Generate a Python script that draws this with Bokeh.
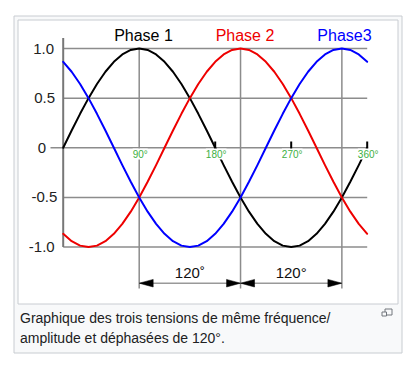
from bokeh.plotting import figure
from bokeh.models import Range1d, ColumnDataSource, LabelSet
from bokeh.core.properties import value
from bokeh.embed import file_html
from bokeh.resources import INLINE

# ---------------- data ----------------
degrees = [0, 10, 20, 30, 40, 50, 60, 70, 80, 90, 100, 110, 120, 130, 140, 150, 160, 170, 180,
           190, 200, 210, 220, 230, 240, 250, 260, 270, 280, 290, 300, 310, 320, 330, 340, 350, 360]
phase1 = [0.0, 0.174, 0.342, 0.5, 0.643, 0.766, 0.866, 0.94, 0.985, 1.0, 0.985, 0.94, 0.866, 0.766,
          0.643, 0.5, 0.342, 0.174, 0.0, -0.174, -0.342, -0.5, -0.643, -0.766, -0.866, -0.94, -0.985,
          -1.0, -0.985, -0.94, -0.866, -0.766, -0.643, -0.5, -0.342, -0.174, 0.0]
phase2 = [-0.866, -0.94, -0.985, -1.0, -0.985, -0.94, -0.866, -0.766, -0.643, -0.5, -0.342, -0.174,
          0.0, 0.174, 0.342, 0.5, 0.643, 0.766, 0.866, 0.94, 0.985, 1.0, 0.985, 0.94, 0.866, 0.766,
          0.643, 0.5, 0.342, 0.174, 0.0, -0.174, -0.342, -0.5, -0.643, -0.766, -0.866]
phase3 = [0.866, 0.766, 0.643, 0.5, 0.342, 0.174, 0.0, -0.174, -0.342, -0.5, -0.643, -0.766, -0.866,
          -0.94, -0.985, -1.0, -0.985, -0.94, -0.866, -0.766, -0.643, -0.5, -0.342, -0.174, 0.0, 0.174,
          0.342, 0.5, 0.643, 0.766, 0.866, 0.94, 0.985, 1.0, 0.985, 0.94, 0.866]
series_names = ["Phase 1", "Phase 2", "Phase3"]
y_ticks = [1.0, 0.5, 0.0, -0.5, -1.0]
y_tick_labels = ["1.0", "0.5", "0", "-0.5", "-1.0"]
x_ticks = [90, 180, 270, 360]
x_tick_labels = ["90°", "180°", "270°", "360°"]
peak_angles = [90, 210, 330]
shift_labels = ["120˚", "120°"]
caption_lines = ["Graphique des trois tensions de même fréquence/",
                 "amplitude et déphasées de 120°."]

# ---------------- layout / styles ----------------
W, H = 410, 360
OFF = 0
X0 = 62.7 - OFF
PPD = 304.0 / 360.0
Y0 = 147.3 - OFF
PPU = 99.3
FONT = value("Liberation Sans")
series_colors = ["#000000", "#ee0000", "#0000ff"]
GRID = "#8c8c8c"


def dx(px):
    return (px - OFF - X0) / PPD


def dy(py):
    return (Y0 - (py - OFF)) / PPU


def wpx(n):
    return n / PPD


def hpx(n):
    return n / PPU


p = figure(width=W, height=H, output_backend="svg", toolbar_location=None,
           x_range=Range1d(-X0 / PPD, (W - X0) / PPD),
           y_range=Range1d(-(H - Y0) / PPU, Y0 / PPU),
           min_border=0, x_axis_location=None, y_axis_location=None,
           outline_line_color=None, background_fill_color="white",
           border_fill_color="white")
p.grid.visible = False

# wiki thumbnail frame
p.quad(left=[dx(13.5)], right=[dx(401.5)], top=[dy(15.5)], bottom=[dy(352.5)],
       fill_color="#f8f9fa", line_color="#c8ccd1", line_width=1)
p.quad(left=[dx(17.5)], right=[dx(397.5)], top=[dy(19.5)], bottom=[dy(303.5)],
       fill_color="#ffffff", line_color="#c8ccd1", line_width=1)

# horizontal grid lines
hy = [t for t in y_ticks if t != 0]
p.segment(x0=[degrees[0]] * len(hy), x1=[degrees[-1]] * len(hy), y0=hy, y1=hy,
          line_color=GRID, line_width=1.5)
# zero line
p.segment(x0=[dx(50)], x1=[degrees[-1]], y0=[0], y1=[0], line_color=GRID, line_width=1.5)
# vertical lines at peaks, reaching down to the dimension arrows
ya = dy(282.7)
p.segment(x0=peak_angles, x1=peak_angles, y0=[max(y_ticks)] * 3, y1=[dy(288)] * 3,
          line_color=GRID, line_width=1.5)
# y axis
p.segment(x0=[0], x1=[0], y0=[dy(37.5)], y1=[min(y_ticks)], line_color="#777777", line_width=2)

# dimension line
p.segment(x0=[peak_angles[0]], x1=[peak_angles[-1]], y0=[ya], y1=[ya],
          line_color="#999999", line_width=1.5)
L, HW = wpx(14), hpx(3.8)
heads_x = [
    [peak_angles[0], peak_angles[0] + L, peak_angles[0] + L],
    [peak_angles[1], peak_angles[1] - L, peak_angles[1] - L],
    [peak_angles[1], peak_angles[1] + L, peak_angles[1] + L],
    [peak_angles[2], peak_angles[2] - L, peak_angles[2] - L],
]
heads_y = [[ya, ya + HW, ya - HW]] * 4
p.patches(xs=heads_x, ys=heads_y, fill_color="black", line_color="black", line_width=0.5)

# curves
for vals, col in zip([phase1, phase2, phase3], series_colors):
    p.line(degrees, vals, line_color=col, line_width=2, line_join="round", line_cap="round")

# x tick marks
tx = [t for t in x_ticks if t not in peak_angles]
p.segment(x0=tx, x1=tx, y0=[dy(141)] * len(tx), y1=[dy(149)] * len(tx),
          line_color="black", line_width=2)

# x tick labels (green, white background)
xsrc = ColumnDataSource(dict(x=x_ticks, y=[dy(153.5)] * len(x_ticks), t=x_tick_labels))
p.add_layout(LabelSet(x="x", y="y", text="t", source=xsrc, text_align="center",
                      text_baseline="middle", x_offset=1, text_font=FONT,
                      text_font_size="10px", text_color="#3cb043",
                      background_fill_color="white"))

# y tick labels
y_label_right = [53.5, 54.5, 45.5, 56.8, 54.2]
p.text(x=[dx(r) for r in y_label_right], y=y_ticks, text=y_tick_labels,
       text_align="right", text_baseline="middle", text_font=FONT,
       text_font_size="15px", text_color="#222222")

# series labels
p.text(x=[dx(143), dx(244.5), dx(344)], y=[dy(35)] * 3, text=series_names,
       text_align="center", text_baseline="middle", text_font=FONT,
       text_font_size="16px", text_color=series_colors)

# 120 degree labels
mids = [(peak_angles[0] + peak_angles[1]) / 2, (peak_angles[1] + peak_angles[2]) / 2]
p.text(x=mids, y=[dy(271.7)] * 2, text=shift_labels, text_align="center",
       text_baseline="middle", text_font=FONT, text_font_size="15px",
       text_color="#111111")

# caption
p.text(x=[dx(19.5)] * 2, y=[dy(317), dy(337)], text=caption_lines, text_align="left",
       text_baseline="middle", text_font=FONT, text_font_size="14px",
       text_color="#202122")

# magnify icon
p.quad(left=[dx(384.5)], right=[dx(391.5)], top=[dy(308.5)], bottom=[dy(314.5)],
       fill_color=None, line_color="#72777d", line_width=1)
p.quad(left=[dx(381.5)], right=[dx(386)], top=[dy(311.5)], bottom=[dy(315.5)],
       fill_color="#f8f9fa", line_color="#72777d", line_width=1)

open("out.html", "w").write(file_html(p, INLINE))
